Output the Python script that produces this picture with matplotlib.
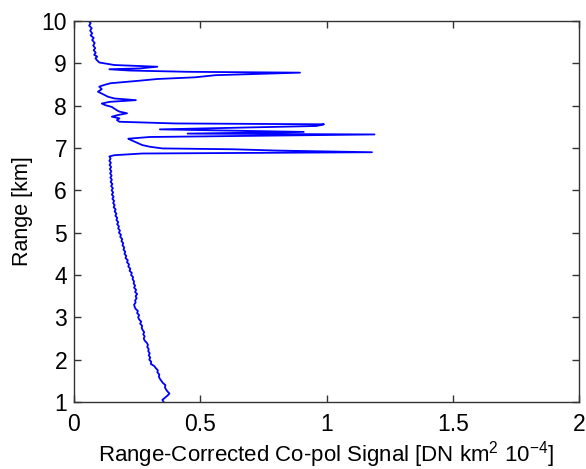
import matplotlib
matplotlib.use("Agg")
import matplotlib.pyplot as plt

# clear-air part of the profile (range km, signal)
low_range = [
    1.00, 1.05, 1.10, 1.15, 1.20, 1.25, 1.30, 1.35, 1.40, 1.45,
    1.50, 1.55, 1.60, 1.65, 1.70, 1.75, 1.80, 1.85, 1.90, 1.95,
    2.00, 2.05, 2.10, 2.15, 2.20, 2.25, 2.30, 2.35, 2.40, 2.45,
    2.50, 2.55, 2.60, 2.65, 2.70, 2.75, 2.80, 2.85, 2.90, 2.95,
    3.00, 3.05, 3.10, 3.15, 3.20, 3.25, 3.30, 3.35, 3.40, 3.45,
    3.50, 3.55, 3.60, 3.65, 3.70, 3.75, 3.80, 3.85, 3.90, 3.95,
    4.00, 4.05, 4.10, 4.15, 4.20, 4.25, 4.30, 4.35, 4.40, 4.45,
    4.50, 4.55, 4.60, 4.65, 4.70, 4.75, 4.80, 4.85, 4.90, 4.95,
    5.00, 5.05, 5.10, 5.15, 5.20, 5.25, 5.30, 5.35, 5.40, 5.45,
    5.50, 5.55, 5.60, 5.65, 5.70, 5.75, 5.80, 5.85, 5.90, 5.95,
    6.00, 6.05, 6.10, 6.15, 6.20, 6.25, 6.30, 6.35, 6.40, 6.45,
    6.50, 6.55, 6.60, 6.65, 6.70, 6.75, 6.80,
]
low_signal = [
    0.355, 0.350, 0.360, 0.370, 0.378, 0.370, 0.364, 0.360, 0.362, 0.352,
    0.346, 0.340, 0.336, 0.338, 0.330, 0.332, 0.324, 0.318, 0.304, 0.306,
    0.298, 0.302, 0.296, 0.300, 0.294, 0.296, 0.290, 0.293, 0.288, 0.280,
    0.276, 0.280, 0.274, 0.278, 0.272, 0.268, 0.270, 0.262, 0.266, 0.258,
    0.254, 0.258, 0.250, 0.253, 0.244, 0.240, 0.238, 0.244, 0.242, 0.248,
    0.244, 0.250, 0.242, 0.246, 0.238, 0.242, 0.236, 0.238, 0.232, 0.234,
    0.226, 0.229, 0.220, 0.223, 0.215, 0.218, 0.210, 0.213, 0.204, 0.207,
    0.200, 0.203, 0.196, 0.199, 0.192, 0.195, 0.188, 0.191, 0.183, 0.186,
    0.178, 0.182, 0.175, 0.178, 0.171, 0.175, 0.168, 0.171, 0.164, 0.168,
    0.161, 0.165, 0.157, 0.161, 0.155, 0.159, 0.152, 0.157, 0.150, 0.155,
    0.149, 0.154, 0.147, 0.152, 0.145, 0.150, 0.144, 0.149, 0.143, 0.148,
    0.142, 0.147, 0.141, 0.146, 0.140, 0.145, 0.140,
]

# cloud layers, 6.8 - 9 km
cloud_range = [
    6.83, 6.87, 6.90, 6.94, 6.97, 6.99, 7.03, 7.07, 7.11, 7.15,
    7.19, 7.22, 7.26, 7.32, 7.34, 7.38, 7.44, 7.52, 7.56, 7.58,
    7.62, 7.66, 7.70, 7.74, 7.78, 7.82, 7.86, 7.89, 7.93, 7.97,
    8.01, 8.05, 8.09, 8.13, 8.17, 8.21, 8.27, 8.33, 8.39, 8.45,
    8.49, 8.53, 8.59, 8.63, 8.67, 8.72, 8.78, 8.80, 8.83, 8.86,
    8.88, 8.92, 8.96, 9.00,
]
cloud_signal = [
    0.160, 0.270, 1.180, 0.800, 0.630, 0.350, 0.300, 0.270, 0.255, 0.240,
    0.225, 0.215, 0.300, 1.190, 0.450, 0.910, 0.340, 0.960, 0.990, 0.400,
    0.180, 0.170, 0.180, 0.150, 0.175, 0.210, 0.180, 0.170, 0.160, 0.150,
    0.125, 0.110, 0.140, 0.245, 0.160, 0.135, 0.115, 0.095, 0.110, 0.100,
    0.120, 0.145, 0.260, 0.330, 0.480, 0.560, 0.895, 0.450, 0.220, 0.140,
    0.260, 0.330, 0.160, 0.120,
]

# above the clouds
top_range = [
    9.02, 9.05, 9.08, 9.12, 9.16, 9.20, 9.25, 9.31, 9.36, 9.42,
    9.48, 9.55, 9.60, 9.66, 9.71, 9.77, 9.83, 9.89, 9.95, 10.00,
]
top_signal = [
    0.100, 0.095, 0.090, 0.085, 0.092, 0.080, 0.086, 0.078, 0.084, 0.076,
    0.082, 0.072, 0.078, 0.066, 0.072, 0.064, 0.070, 0.060, 0.066, 0.058,
]

x_ticks = [0, 0.5, 1, 1.5, 2]
x_tick_labels = ["0", "0.5", "1", "1.5", "2"]
y_ticks = [1, 2, 3, 4, 5, 6, 7, 8, 9, 10]

plt.rcParams["font.family"] = ["Liberation Sans", "DejaVu Sans"]
plt.rcParams["mathtext.fontset"] = "custom"
plt.rcParams["mathtext.rm"] = "Liberation Sans"
plt.rcParams["mathtext.it"] = "Liberation Sans"

range_km = low_range + cloud_range + top_range
signal = low_signal + cloud_signal + top_signal

fig = plt.figure(figsize=(5.86, 4.69), dpi=100)
ax = fig.add_axes([74 / 586, 67 / 469, 505 / 586, 381 / 469])

ax.plot(signal, range_km, color="#0000ff", lw=1.3)

ax.set_xlim(0, 2)
ax.set_ylim(1, 10)
ax.set_xticks(x_ticks)
ax.set_xticklabels(x_tick_labels)
ax.set_yticks(y_ticks)
ax.tick_params(direction="in", top=True, right=True, labelsize=16.5, length=5,
               width=1, color="#333333")
ax.tick_params(axis="x", pad=8)
ax.tick_params(axis="y", pad=5)
for sp in ax.spines.values():
    sp.set_color("#333333")
    sp.set_linewidth(1.0)

ax.set_xlabel(r"Range-Corrected Co-pol Signal [DN km$^\mathrm{2}$ 10$^\mathrm{-4}$]",
              fontsize=16, labelpad=2)
ax.set_ylabel("Range [km]", fontsize=15.5, labelpad=6)

fig.savefig("out.png", dpi=100)
